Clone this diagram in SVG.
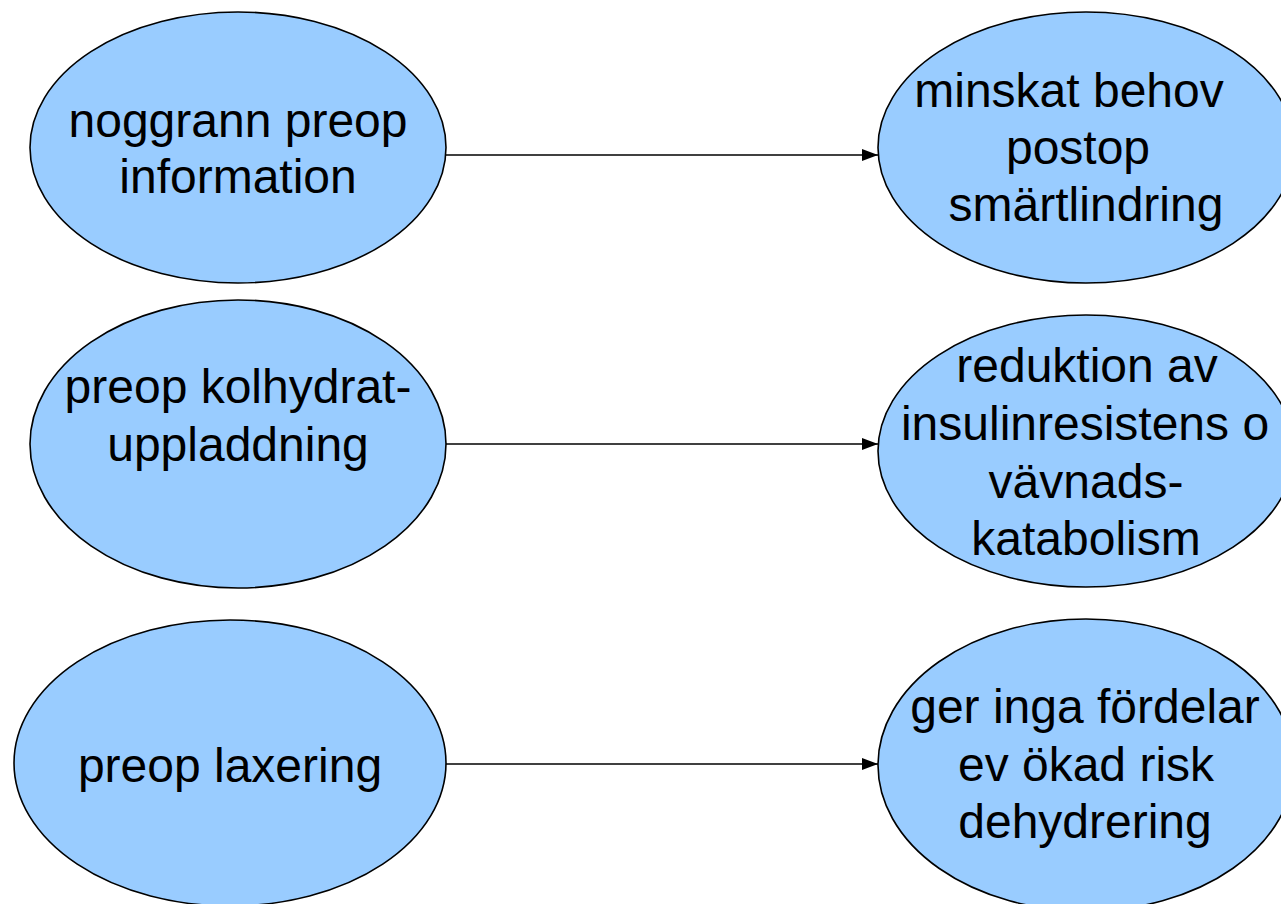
<svg xmlns="http://www.w3.org/2000/svg" width="1281" height="904" viewBox="0 0 1281 904">
<defs>
<style>
.node ellipse{fill:#99CCFF;stroke:#000;stroke-width:1.6}
.node text{font-family:"Liberation Sans",Arial,sans-serif;font-size:48px;fill:#000;text-anchor:middle}
.conn line{stroke:#000;stroke-width:1.6;fill:none}
</style>
<marker id="arr" markerUnits="userSpaceOnUse" markerWidth="16" markerHeight="12" refX="16" refY="6" orient="auto">
<path d="M0,0 L16,6 L0,12 Z" fill="#000"/>
</marker>
</defs>
<rect width="1281" height="904" fill="#fff"/>
<g id="connectors" class="conn">
<line x1="446" y1="155" x2="878" y2="155" marker-end="url(#arr)"/>
<line x1="446" y1="444" x2="878" y2="444" marker-end="url(#arr)"/>
<line x1="446" y1="764" x2="878" y2="764" marker-end="url(#arr)"/>
</g>
<g id="n1" class="node">
<ellipse cx="238" cy="147.5" rx="208" ry="135.5"/>
<text x="238" y="137">noggrann preop</text>
<text x="238" y="193">information</text>
</g>
<g id="n2" class="node">
<ellipse cx="238" cy="444" rx="208" ry="144"/>
<text x="238" y="403">preop kolhydrat-</text>
<text x="238" y="461">uppladdning</text>
</g>
<g id="n3" class="node">
<ellipse cx="230" cy="763" rx="216" ry="143"/>
<text x="230" y="782">preop laxering</text>
</g>
<g id="n4" class="node">
<ellipse cx="1086" cy="147.5" rx="208" ry="135.5"/>
<text x="1069" y="107">minskat behov</text>
<text x="1078" y="164">postop</text>
<text x="1086" y="221">smärtlindring</text>
</g>
<g id="n5" class="node">
<ellipse cx="1086" cy="451" rx="208" ry="136"/>
<text x="1087" y="382">reduktion av</text>
<text x="1085" y="440">insulinresistens o</text>
<text x="1086" y="498">vävnads-</text>
<text x="1086" y="555">katabolism</text>
</g>
<g id="n6" class="node">
<ellipse cx="1086" cy="765" rx="208" ry="146"/>
<text x="1085" y="723">ger inga fördelar</text>
<text x="1086" y="781">ev ökad risk</text>
<text x="1085" y="838">dehydrering</text>
</g>
</svg>
